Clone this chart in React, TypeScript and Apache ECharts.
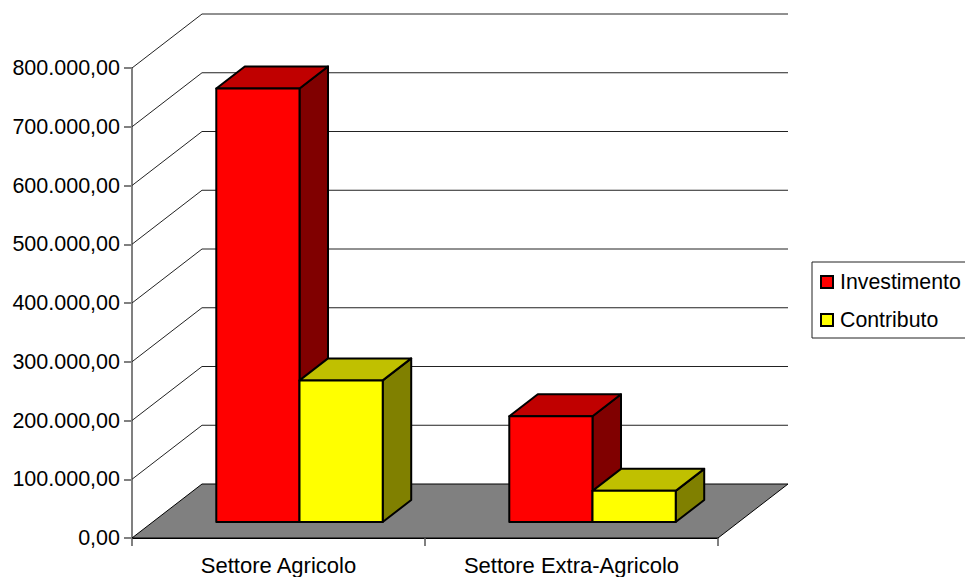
import React, { useEffect, useRef } from "react";
import * as echarts from "echarts";

const categories = ["Settore Agricolo", "Settore Extra-Agricolo"];
const investimento = [738000, 180000];
const contributo = [241000, 53000];
const yTicks = [100000, 200000, 300000, 400000, 500000, 600000, 700000, 800000];

const FONT = "'Liberation Sans', Arial, sans-serif";
const DEPTH_X = 70;
const DEPTH_Y = 54;
const BAR_SHIFT_X = 21;
const BAR_SHIFT_Y = 16;
const BAR_RATIO = 0.284;
const BAR_DX = 28.5;
const BAR_DY = 22;

const formatValue = (v: number) => {
  const s = String(Math.round(v)).replace(/\B(?=(\d{3})+$)/g, ".");
  return s + ",00";
};

const barRenderer = (seriesPos: number, front: string, top: string, side: string) =>
  (params: any, api: any) => {
    const idx = api.value(0);
    const value = api.value(1);
    const p = api.coord([idx, value]);
    const b = api.coord([idx, 0]);
    const w = api.size([1, 0])[0] * BAR_RATIO;
    const x0 = p[0] - w + seriesPos * w + BAR_SHIFT_X;
    const x1 = x0 + w;
    const yTop = p[1] - BAR_SHIFT_Y;
    const yBot = b[1] - BAR_SHIFT_Y;
    const lineStyle = { stroke: "#000", lineWidth: 2, lineJoin: "round" };
    return {
      type: "group",
      children: [
        {
          type: "polygon",
          shape: { points: [[x1, yTop], [x1 + BAR_DX, yTop - BAR_DY], [x1 + BAR_DX, yBot - BAR_DY], [x1, yBot]] },
          style: { fill: side, ...lineStyle },
        },
        {
          type: "polygon",
          shape: { points: [[x0, yTop], [x0 + BAR_DX, yTop - BAR_DY], [x1 + BAR_DX, yTop - BAR_DY], [x1, yTop]] },
          style: { fill: top, ...lineStyle },
        },
        {
          type: "rect",
          shape: { x: x0, y: yTop, width: w, height: yBot - yTop },
          style: { fill: front, ...lineStyle },
        },
      ],
    };
  };

export default function App() {
  const ref = useRef<HTMLDivElement>(null);
  useEffect(() => {
    document.body.style.margin = "0";
    const chart = echarts.init(ref.current!, undefined, { renderer: "svg" });
    chart.setOption({
      animation: false,
      backgroundColor: "#fff",
      textStyle: { fontFamily: FONT },
      grid: { left: 132, top: 68, width: 586, height: 470 },
      legend: {
        left: 812,
        top: 262,
        orient: "vertical",
        data: [
          { name: "Investimento", icon: "rect" },
          { name: "Contributo", icon: "rect" },
        ],
        itemWidth: 12,
        itemHeight: 12,
        itemGap: 17,
        padding: [9.5, 40, 7.5, 8],
        borderColor: "#222",
        borderWidth: 1,
        textStyle: { fontFamily: FONT, fontSize: 21.3, color: "#000", padding: [0, 0, 0, 2] },
        selectedMode: false,
      },
      xAxis: {
        type: "category",
        data: categories,
        axisLine: { show: true, lineStyle: { color: "#000", width: 2 } },
        axisTick: { show: true, length: 8, lineStyle: { color: "#808080", width: 2 } },
        axisLabel: { fontFamily: FONT, fontSize: 22, color: "#000", margin: 16 },
      },
      yAxis: {
        type: "value",
        min: 0,
        max: 800000,
        interval: 100000,
        axisLine: { show: true, lineStyle: { color: "#808080", width: 2 } },
        axisTick: { show: true, length: 8, lineStyle: { color: "#808080", width: 2 } },
        splitLine: { show: false },
        axisLabel: {
          fontFamily: FONT,
          fontSize: 21.5,
          color: "#000",
          margin: 12,
          formatter: formatValue,
          padding: [0, 0, 4, 0],
        },
      },
      series: [
        {
          type: "custom",
          name: "floor",
          silent: true,
          z: 1,
          data: [[0, 0]],
          renderItem: (params: any, api: any) => {
            const c = params.coordSys;
            const yb = c.y + c.height;
            return {
              type: "polygon",
              shape: {
                points: [
                  [c.x, yb],
                  [c.x + DEPTH_X, yb - DEPTH_Y],
                  [c.x + c.width + DEPTH_X, yb - DEPTH_Y],
                  [c.x + c.width, yb],
                ],
              },
              style: { fill: "#808080", stroke: "#000", lineWidth: 1 },
            };
          },
        },
        {
          type: "custom",
          name: "wall",
          silent: true,
          z: 1,
          data: yTicks.map((v) => [0, v]),
          renderItem: (params: any, api: any) => {
            const c = params.coordSys;
            const y = api.coord([0, api.value(1)])[1];
            return {
              type: "polyline",
              shape: {
                points: [
                  [c.x, y],
                  [c.x + DEPTH_X, y - DEPTH_Y],
                  [c.x + c.width + DEPTH_X, y - DEPTH_Y],
                ],
              },
              style: { fill: "none", stroke: "#222", lineWidth: 1 },
            };
          },
        },
        {
          type: "custom",
          name: "Investimento",
          z: 3,
          itemStyle: { color: "#FF0000", borderColor: "#000", borderWidth: 2 },
          data: investimento.map((v, i) => [i, v]),
          encode: { x: 0, y: 1 },
          renderItem: barRenderer(0, "#FF0000", "#C00000", "#800000"),
        },
        {
          type: "custom",
          name: "Contributo",
          z: 4,
          itemStyle: { color: "#FFFF00", borderColor: "#000", borderWidth: 2 },
          data: contributo.map((v, i) => [i, v]),
          encode: { x: 0, y: 1 },
          renderItem: barRenderer(1, "#FFFF00", "#C0C000", "#808000"),
        },
      ],
    });
    return () => chart.dispose();
  }, []);
  return <div ref={ref} style={{ position: "absolute", left: 0, top: 0, width: 965, height: 577, overflow: "hidden" }} />;
}
